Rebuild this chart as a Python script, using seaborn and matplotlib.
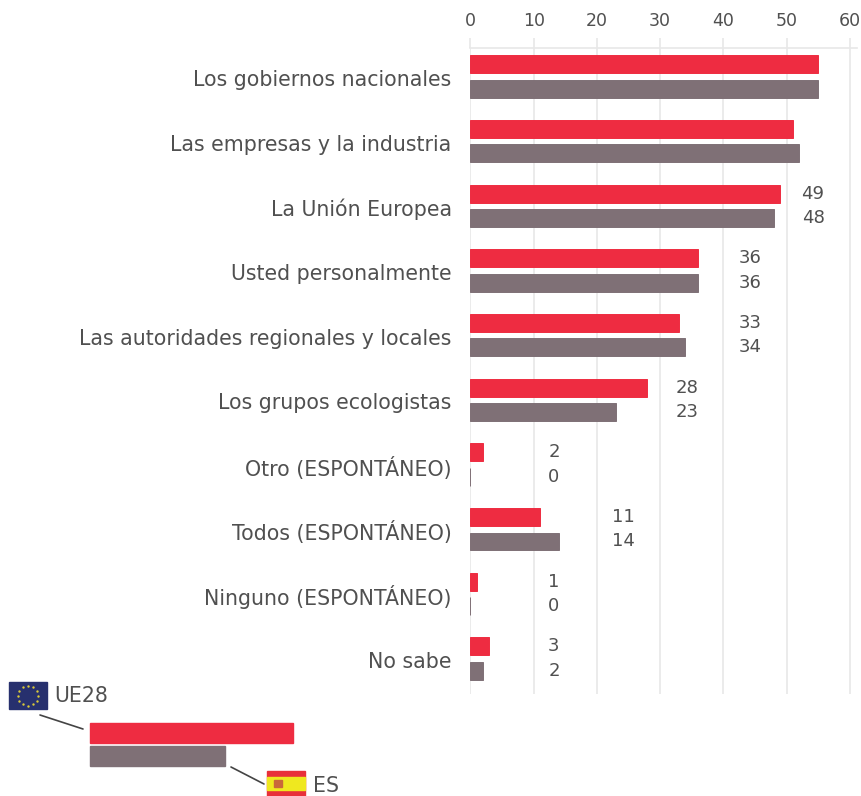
import matplotlib
matplotlib.use("Agg")
import matplotlib.pyplot as plt
from matplotlib.patches import Rectangle
from matplotlib.lines import Line2D
from matplotlib.transforms import ScaledTranslation
import seaborn as sb
import numpy as np
import pandas as pd

categories = ["Los gobiernos nacionales", "Las empresas y la industria", "La Unión Europea",
	"Usted personalmente", "Las autoridades regionales y locales", "Los grupos ecologistas",
	"Otro (ESPONTÁNEO)", "Todos (ESPONTÁNEO)", "Ninguno (ESPONTÁNEO)", "No sabe"]
ue28 = [55, 51, 49, 36, 33, 28, 2, 11, 1, 3]
es = [55, 52, 48, 36, 34, 23, 0, 14, 0, 2]
ticks = [0, 10, 20, 30, 40, 50, 60]

RED = "#ee2c41"
GREY = "#7f7076"
TEXT = "#505050"
GRID = "#e8e8e8"
W, H = 862, 796

df = pd.DataFrame({
	"cat": categories * 2,
	"val": ue28 + es,
	"geo": ["UE28"] * 10 + ["ES"] * 10,
})

sb.set_style("white")
plt.rcParams["font.family"] = ["DejaVu Sans"]

fig = plt.figure(figsize=(W / 100, H / 100), dpi=100)

# pixel box of the plot area
left, right, top, bottom = 470.5, 857, 48, 694
ax = fig.add_axes([left / W, 1 - bottom / H, (right - left) / W, (bottom - top) / H])

sb.barplot(data=df, y="cat", x="val", hue="geo", palette=[RED, GREY], saturation=1, width=0.76,
	gap=0.27, legend=False, ax=ax, zorder=3)
for p in ax.patches:
	p.set_edgecolor(p.get_facecolor())
	p.set_linewidth(0.7)

ax.set_xlim(0, (right - left) / 6.32)
ax.set_ylim((bottom - 76.5) / 64.67, (top - 76.5) / 64.67)
ax.set_xlabel("")
ax.set_ylabel("")
ax.set_xticks(ticks)
ax.grid(axis="x", color=GRID, linewidth=1.2, zorder=0)
ax.grid(axis="y", visible=False)
ax.tick_params(axis="x", labelbottom=False, labeltop=True, top=True, bottom=False, length=7,
	width=1.2, color=GRID, labelcolor=TEXT, labelsize=12.5, pad=6)
ax.tick_params(axis="y", left=False, labelcolor=TEXT, labelsize=14.8, pad=10)
for s in ["left", "right", "bottom"]:
	ax.spines[s].set_visible(False)
ax.spines["top"].set_color(GRID)
ax.spines["top"].set_linewidth(1.2)

# accents must not move the labels, so centre them on the baseline
shift = ScaledTranslation(0, -1.5 / 100, fig.dpi_scale_trans)
for lab in ax.get_yticklabels():
	lab.set_verticalalignment("center_baseline")
	lab.set_transform(lab.get_transform() + shift)

for i in range(len(categories)):
	pos = np.ceil(max(ue28[i], es[i]) / 10) * 10 + 4.2
	if max(ue28[i], es[i]) < 10:
		pos -= 1
	if pos > 60:
		continue
	ax.text(pos, i - 0.19, str(ue28[i]), ha="center", va="center", color=TEXT, fontsize=13)
	ax.text(pos, i + 0.19, str(es[i]), ha="center", va="center", color=TEXT, fontsize=13)

# legend key, drawn in pixel coordinates over the whole figure
key = fig.add_axes([0, 0, 1, 1], facecolor="none")
key.set_xlim(0, W)
key.set_ylim(H, 0)
key.axis("off")

key.add_patch(Rectangle((90, 723), 203, 20, color=RED))
key.add_patch(Rectangle((90, 746), 135, 20, color=GREY))
key.add_line(Line2D([40, 83], [715, 729], color="#444444", lw=1.2))
key.add_line(Line2D([231, 264], [767, 784], color="#444444", lw=1.2))

key.add_patch(Rectangle((9, 682), 38, 27, color="#27306e"))
angles = np.arange(12) * np.pi / 6
key.scatter(28 + 10 * np.cos(angles), 695.5 + 10 * np.sin(angles), s=3, color="#d9c93a", linewidths=0)
key.text(54, 696.5, "UE28", color=TEXT, fontsize=14.8, va="center")

key.add_patch(Rectangle((267, 771), 38, 25, color="#e8303a"))
key.add_patch(Rectangle((267, 777), 38, 13, color="#efe81f"))
key.add_patch(Rectangle((274, 780), 8, 7, color="#c9683a"))
key.text(313, 786, "ES", color=TEXT, fontsize=14.8, va="center")

fig.savefig("out.png", dpi=100)
